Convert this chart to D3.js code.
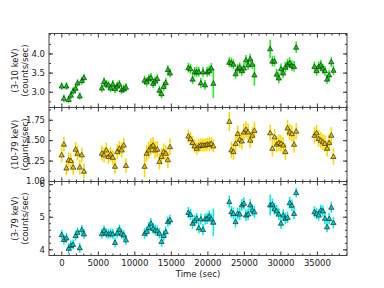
<!DOCTYPE html>
<html>
<head>
<meta charset="utf-8">
<script src="https://cdn.jsdelivr.net/npm/d3@7"></script>
<style>
  body { margin: 0; background: #fff; }
  text { font-family: "DejaVu Sans", sans-serif; }
</style>
</head>
<body>
<svg class="chart" width="384" height="288"></svg>
<script>
// observation times (sec), 7 segments
var timeSec = [
  50, 350, 700, 1000, 1300, 1620, 1950, 2220, 2520, 2800, 3100,
  5550, 5850, 6150, 6450, 6750, 7050, 7350, 7650, 7950, 8250, 8550, 8850,
  11400, 11690, 11980, 12270, 12560, 12850, 13140, 13430, 13720, 14010, 14300, 14590, 14880,
  17400, 17690, 17970, 18260, 18540, 18830, 19110, 19400, 19680, 19970, 20250, 20540, 20820,
  23000, 23290, 23570, 23860, 24150, 24430, 24720, 25000, 25290, 25580, 25860, 26150, 26440,
  28600, 28900, 29190, 29490, 29790, 30080, 30380, 30680, 30980, 31270, 31570, 31870, 32160,
  34660, 34950, 35240, 35530, 35820, 36100, 36390, 36680, 36970, 37260
];
var segSize = [11, 12, 13, 13, 13, 13, 10];

var rate3to10 = [
  3.15, 2.83, 3.15, 2.80, 2.91, 3.02, 3.09, 3.23, 2.89, 3.29, 3.37,
  3.10, 3.27, 3.20, 3.18, 3.10, 3.20, 3.08, 3.15, 3.20, 3.05, 3.08, 3.12,
  3.30, 3.26, 3.34, 3.37, 3.22, 3.28, 3.34, 3.04, 2.95, 3.14, 3.24, 3.58, 3.49,
  3.63, 3.60, 3.33, 3.52, 3.52, 3.52, 3.23, 3.52, 3.18, 3.52, 3.55, 3.62, 3.22,
  3.77, 3.76, 3.72, 3.47, 3.60, 3.64, 3.55, 3.62, 3.83, 3.70, 3.86, 3.72, 3.44,
  4.12, 3.80, 3.80, 3.46, 3.36, 3.60, 3.49, 3.64, 3.72, 3.76, 3.68, 3.66, 4.16,
  3.66, 3.55, 3.66, 3.70, 3.60, 3.55, 3.33, 3.44, 3.78, 3.56
];
var rate10to79 = [
  1.32, 1.45, 1.16, 1.26, 1.25, 1.17, 1.39, 1.34, 1.17, 1.32, 1.12,
  1.34, 1.32, 1.38, 1.30, 1.33, 1.29, 1.18, 1.36, 1.40, 1.38, 1.44, 1.19,
  1.18, 1.34, 1.38, 1.42, 1.44, 1.38, 1.39, 1.24, 1.30, 1.36, 1.34, 1.26, 1.42,
  1.55, 1.52, 1.47, 1.43, 1.40, 1.43, 1.44, 1.44, 1.44, 1.45, 1.45, 1.46, 1.43,
  1.73, 1.38, 1.36, 1.46, 1.58, 1.51, 1.49, 1.60, 1.63, 1.60, 1.50, 1.56, 1.62,
  1.59, 1.40, 1.54, 1.45, 1.47, 1.46, 1.44, 1.36, 1.65, 1.60, 1.58, 1.45, 1.61,
  1.56, 1.59, 1.52, 1.50, 1.48, 1.46, 1.40, 1.47, 1.56, 1.30
];
var rate3to79 = [
  4.45, 4.30, 4.35, 4.03, 4.12, 4.15, 4.42, 4.52, 4.05, 4.60, 4.47,
  4.48, 4.58, 4.50, 4.47, 4.49, 4.47, 4.21, 4.50, 4.61, 4.48, 4.44, 4.29,
  4.49, 4.55, 4.67, 4.80, 4.64, 4.59, 4.57, 4.49, 4.24, 4.42, 4.54, 4.85, 4.90,
  5.13, 5.07, 4.80, 4.88, 4.95, 4.66, 4.93, 4.61, 4.93, 4.95, 5.02, 4.93, 4.83,
  5.46, 5.15, 5.10, 4.85, 5.10, 5.08, 5.36, 5.41, 5.05, 5.08, 5.36, 5.20, 5.15,
  5.36, 5.38, 5.24, 5.18, 5.08, 4.80, 5.05, 4.95, 4.98, 5.43, 5.35, 5.10, 5.74,
  5.15, 5.10, 5.05, 5.20, 5.18, 4.95, 4.69, 4.94, 5.29, 4.82
];

// typical error per segment, and a few points with larger bars [index, err]
var err3to10 = [0.10, 0.11, 0.12, 0.13, 0.13, 0.14, 0.13];
var err10to79 = [0.09, 0.09, 0.10, 0.08, 0.10, 0.10, 0.10];
var err3to79 = [0.15, 0.15, 0.16, 0.17, 0.18, 0.18, 0.17];
var bigErr3to10 = [[48, 0.38], [61, 0.28], [62, 0.24], [74, 0.15]];
var bigErr10to79 = [[23, 0.14], [49, 0.12]];
var bigErr3to79 = [[48, 0.42], [62, 0.32], [74, 0.15]];

var xTicks = [0, 5000, 10000, 15000, 20000, 25000, 30000, 35000];

var panels = [
  { band: '(3-10 keV)', rate: rate3to10, err: err3to10, big: bigErr3to10,
    domain: [2.59, 4.52], ticks: [3.0, 3.5, 4.0], fmt: '.1f', minor: 0.25,
    bar: '#22ee22', fill: '#11cc11' },
  { band: '(10-79 keV)', rate: rate10to79, err: err10to79, big: bigErr10to79,
    domain: [0.994, 1.9], ticks: [1.0, 1.25, 1.5, 1.75], fmt: '.2f', minor: 0.125,
    bar: '#ffd700', fill: '#e8c000' },
  { band: '(3-79 keV)', rate: rate3to79, err: err3to79, big: bigErr3to79,
    domain: [3.81, 6.08], ticks: [4, 5, 6], fmt: 'd', minor: 0.2,
    bar: '#00eeee', fill: '#00cccc' }
];

var left = 49, right = 347, top0 = 33.5, ph = 74;
var svg = d3.select('.chart');

var xScale = d3.scaleLinear()
  .domain([-1690, 39120])
  .range([left, right]);

var xMinor = d3.range(-1000, 39001, 1000).filter(function (v) { return v % 5000 !== 0; });

// expand per-point errors
function errorsFor(p) {
  var out = [];
  for (let s = 0; s < segSize.length; s++) {
    for (let k = 0; k < segSize[s]; k++) out.push(p.err[s]);
  }
  p.big.forEach(function (b) { out[b[0]] = b[1]; });
  return out;
}

panels.forEach(function (p, pi) {
  var y0 = top0 + pi * ph;
  var yScale = d3.scaleLinear().domain(p.domain).range([y0 + ph, y0]);
  var errs = errorsFor(p);
  var g = svg.append('g');

  var pts = timeSec.map(function (t, i) {
    return { t: t, v: p.rate[i], e: errs[i] };
  });

  // error bars
  g.selectAll('line.err')
    .data(pts)
    .join('line')
    .attr('x1', function (d) { return xScale(d.t); })
    .attr('x2', function (d) { return xScale(d.t); })
    .attr('y1', function (d) { return yScale(d.v - d.e); })
    .attr('y2', function (d) { return yScale(d.v + d.e); })
    .attr('stroke', p.bar)
    .attr('stroke-width', 1.6);

  // triangle markers
  g.selectAll('path.pt')
    .data(pts)
    .join('path')
    .attr('d', d3.symbol().type(d3.symbolTriangle).size(12))
    .attr('transform', function (d) {
      return 'translate(' + xScale(d.t) + ',' + (yScale(d.v) + 0.5) + ')';
    })
    .attr('fill', p.fill)
    .attr('stroke', '#111')
    .attr('stroke-width', 0.6);

  // y axes (ticks inward)
  var yMinor = d3.range(Math.ceil(p.domain[0] / p.minor) * p.minor, p.domain[1], p.minor);
  function addY(axisFn, x, vals, size, fmt) {
    var a = g.append('g')
      .attr('transform', 'translate(' + x + ',0)')
      .call(axisFn(yScale).tickValues(vals).tickSize(size).tickPadding(4)
        .tickFormat(fmt ? d3.format(fmt) : ''));
    a.select('.domain').remove();
    a.selectAll('line').attr('stroke', '#333');
    a.selectAll('text').attr('font-size', 8.5).attr('fill', '#222');
  }
  addY(d3.axisLeft, left, p.ticks, -4, p.fmt);
  addY(d3.axisLeft, left, yMinor, -2, null);
  addY(d3.axisRight, right, p.ticks, -4, null);
  addY(d3.axisRight, right, yMinor, -2, null);

  // x ticks on top and bottom of each panel
  function addX(axisFn, y, vals, size, withLabels) {
    var a = g.append('g')
      .attr('transform', 'translate(0,' + y + ')')
      .call(axisFn(xScale).tickValues(vals).tickSize(size).tickPadding(4)
        .tickFormat(withLabels ? d3.format('d') : ''));
    a.select('.domain').remove();
    a.selectAll('line').attr('stroke', '#333');
    a.selectAll('text').attr('font-size', 8.5).attr('fill', '#222');
  }
  addX(d3.axisTop, y0, xTicks, -4, false);
  addX(d3.axisTop, y0, xMinor, -2, false);
  addX(d3.axisBottom, y0 + ph, xTicks, -4, pi === 2);
  addX(d3.axisBottom, y0 + ph, xMinor, -2, false);

  g.append('rect')
    .attr('x', left).attr('y', y0)
    .attr('width', right - left).attr('height', ph)
    .attr('fill', 'none').attr('stroke', '#444').attr('stroke-width', 1);

  // y title
  var ty = g.append('text')
    .attr('transform', 'translate(18,' + (y0 + ph / 2) + ') rotate(-90)')
    .attr('text-anchor', 'middle')
    .attr('font-size', 8.5)
    .attr('fill', '#222');
  ty.append('tspan').attr('x', 0).attr('dy', 0).text(p.band);
  ty.append('tspan').attr('x', 0).attr('dy', 9.5).text('(counts/sec)');
});

svg.append('text')
  .attr('x', (left + right) / 2)
  .attr('y', 277)
  .attr('text-anchor', 'middle')
  .attr('font-size', 8.5)
  .attr('fill', '#222')
  .text('Time (sec)');
</script>
</body>
</html>
